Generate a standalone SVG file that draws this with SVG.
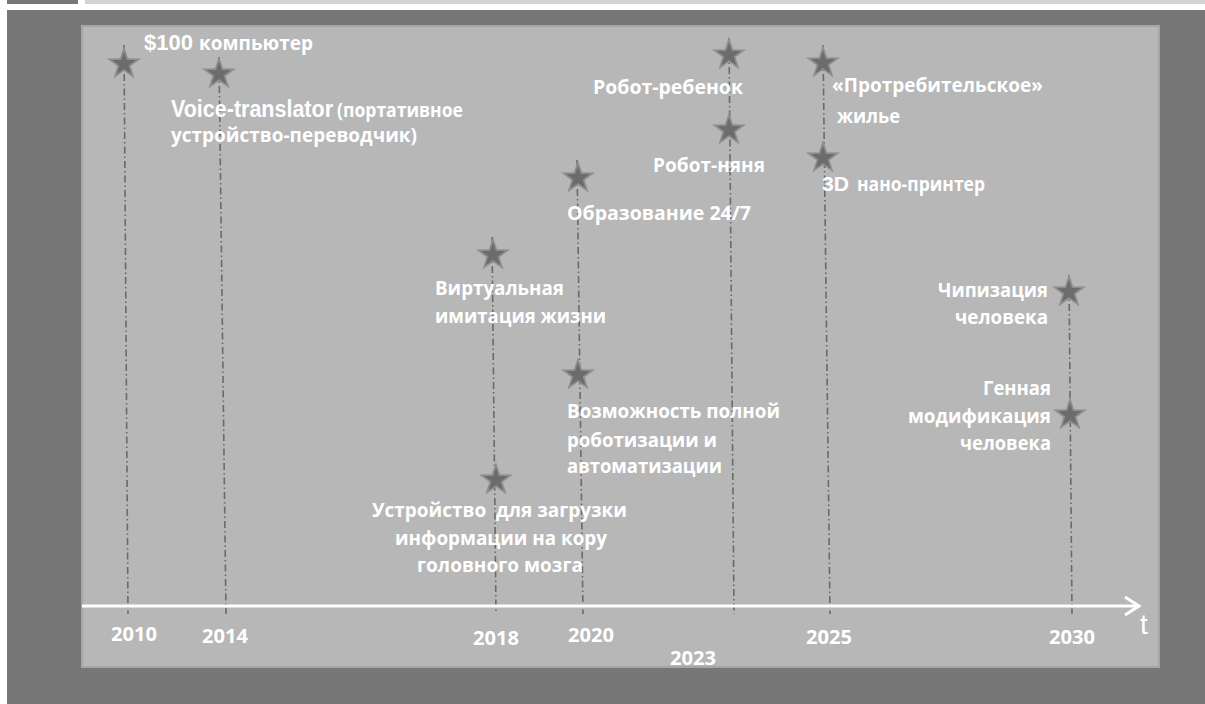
<svg xmlns="http://www.w3.org/2000/svg" xmlns:xlink="http://www.w3.org/1999/xlink" width="1205" height="704" viewBox="0 0 1205 704">
<defs>
<style>
.lbl{font-family:"Open Sans","DejaVu Sans",sans-serif;font-weight:700;font-size:19px;fill:#ffffff}
.ar{font-family:"Liberation Sans",Arial,sans-serif;font-weight:700;fill:#ffffff}
.yr{font-family:"Open Sans","DejaVu Sans",sans-serif;font-weight:700;font-size:20px;fill:#ffffff}
.vline{stroke:#6a6a6a;stroke-width:1.6;stroke-dasharray:7 3 1.5 3;fill:none}
</style>
<path id="star" d="M0,-18 L4.11,-5.66 L17.12,-5.56 L6.66,2.16 L10.58,14.56 L0,7 L-10.58,14.56 L-6.66,2.16 L-17.12,-5.56 L-4.11,-5.66 Z"/>
<g id="starmark">
<use xlink:href="#star" fill="#8f8f8f"/>
<use xlink:href="#star" fill="#6c6c6c" transform="scale(0.7)"/>
</g>
</defs>
<rect x="0" y="0" width="1205" height="704" fill="#ffffff"/>
<rect x="7" y="0" width="71" height="4" fill="#777777"/>
<rect x="85" y="0" width="1120" height="4" fill="#d4d4d4"/>
<rect x="7" y="10" width="1198" height="694" fill="#777777"/>
<rect x="82" y="26" width="1077" height="641" fill="#b7b7b7" stroke="#a6a6a6" stroke-width="2"/>

<g id="connectors">
<line class="vline" x1="124" y1="45" x2="128" y2="614"/>
<line class="vline" x1="219" y1="57" x2="226" y2="614"/>
<line class="vline" x1="492" y1="237" x2="496" y2="614"/>
<line class="vline" x1="577" y1="160" x2="583" y2="614"/>
<line class="vline" x1="729" y1="38" x2="734" y2="614"/>
<line class="vline" x1="823" y1="45" x2="830" y2="614"/>
<line class="vline" x1="1069" y1="275" x2="1072" y2="614"/>
<line x1="82" y1="606" x2="1137" y2="606" stroke="#ffffff" stroke-width="3"/>
<polyline points="1125,597 1139,606 1125,615" fill="none" stroke="#ffffff" stroke-width="3" stroke-linejoin="miter"/>
<text x="1140" y="634" font-family="Liberation Sans, Arial, sans-serif" font-size="28" fill="#ffffff">t</text>
</g>

<g id="node-computer">
<use xlink:href="#starmark" x="124" y="64"/>
<text class="ar" x="144" y="50" font-size="22" textLength="49" lengthAdjust="spacingAndGlyphs">$100</text>
<text class="lbl" x="199" y="50" font-size="18" textLength="114" lengthAdjust="spacingAndGlyphs">компьютер</text>
</g>
<g id="node-voice">
<use xlink:href="#starmark" x="219" y="74"/>
<text class="ar" x="171" y="117" font-size="23" textLength="162" lengthAdjust="spacingAndGlyphs">Voice-translator</text>
<text class="lbl" x="337" y="117" textLength="126" lengthAdjust="spacingAndGlyphs">(портативное</text>
<text class="lbl" x="171" y="142" textLength="246" lengthAdjust="spacingAndGlyphs">устройство-переводчик)</text>
</g>
<g id="node-virtual">
<use xlink:href="#starmark" x="493" y="255"/>
<text class="lbl" x="435" y="295" textLength="129" lengthAdjust="spacingAndGlyphs">Виртуальная</text>
<text class="lbl" x="435" y="323" textLength="171" lengthAdjust="spacingAndGlyphs">имитация жизни</text>
</g>
<g id="node-device">
<use xlink:href="#starmark" x="496" y="480"/>
<text class="lbl" x="372" y="517" textLength="255" lengthAdjust="spacingAndGlyphs" xml:space="preserve">Устройство  для загрузки</text>
<text class="lbl" x="395" y="545" textLength="212" lengthAdjust="spacingAndGlyphs">информации на кору</text>
<text class="lbl" x="417" y="572" textLength="166" lengthAdjust="spacingAndGlyphs">головного мозга</text>
</g>
<g id="node-education">
<use xlink:href="#starmark" x="578" y="178"/>
<text class="lbl" x="567" y="220" textLength="184" lengthAdjust="spacingAndGlyphs">Образование 24/7</text>
</g>
<g id="node-robotization">
<use xlink:href="#starmark" x="578" y="375"/>
<text class="lbl" x="567" y="418" textLength="213" lengthAdjust="spacingAndGlyphs">Возможность полной</text>
<text class="lbl" x="567" y="447" textLength="150" lengthAdjust="spacingAndGlyphs">роботизации и</text>
<text class="lbl" x="567" y="473" textLength="155" lengthAdjust="spacingAndGlyphs">автоматизации</text>
</g>
<g id="node-robot-child">
<use xlink:href="#starmark" x="729" y="55"/>
<text class="lbl" x="593" y="94" textLength="150" lengthAdjust="spacingAndGlyphs">Робот-ребенок</text>
</g>
<g id="node-robot-nanny">
<use xlink:href="#starmark" x="729" y="130"/>
<text class="lbl" x="653" y="172" textLength="112" lengthAdjust="spacingAndGlyphs">Робот-няня</text>
</g>
<g id="node-housing">
<use xlink:href="#starmark" x="823" y="63"/>
<text class="lbl" x="832" y="92" textLength="211" lengthAdjust="spacingAndGlyphs">«Протребительское»</text>
<text class="lbl" x="837" y="123" textLength="63" lengthAdjust="spacingAndGlyphs">жилье</text>
</g>
<g id="node-printer">
<use xlink:href="#starmark" x="823" y="158"/>
<text class="ar" x="822" y="191" font-size="20" textLength="27" lengthAdjust="spacingAndGlyphs">3D</text>
<text class="lbl" x="857" y="191" textLength="128" lengthAdjust="spacingAndGlyphs">нано-принтер</text>
</g>
<g id="node-chip">
<use xlink:href="#starmark" x="1069" y="292"/>
<text class="lbl" x="938" y="297" textLength="110" lengthAdjust="spacingAndGlyphs">Чипизация</text>
<text class="lbl" x="955" y="324" textLength="93" lengthAdjust="spacingAndGlyphs">человека</text>
</g>
<g id="node-gene">
<use xlink:href="#starmark" x="1070" y="415"/>
<text class="lbl" x="983" y="395" textLength="68" lengthAdjust="spacingAndGlyphs">Генная</text>
<text class="lbl" x="908" y="423" textLength="143" lengthAdjust="spacingAndGlyphs">модификация</text>
<text class="lbl" x="960" y="450" textLength="91" lengthAdjust="spacingAndGlyphs">человека</text>
</g>
<g id="years">
<text class="yr" x="111" y="641" textLength="46" lengthAdjust="spacingAndGlyphs">2010</text>
<text class="yr" x="202" y="643" textLength="46" lengthAdjust="spacingAndGlyphs">2014</text>
<text class="yr" x="473" y="645" textLength="46" lengthAdjust="spacingAndGlyphs">2018</text>
<text class="yr" x="568" y="642" textLength="46" lengthAdjust="spacingAndGlyphs">2020</text>
<text class="yr" x="670" y="665" textLength="46" lengthAdjust="spacingAndGlyphs">2023</text>
<text class="yr" x="806" y="644" textLength="46" lengthAdjust="spacingAndGlyphs">2025</text>
<text class="yr" x="1049" y="644" textLength="46" lengthAdjust="spacingAndGlyphs">2030</text>
</g>
</svg>
